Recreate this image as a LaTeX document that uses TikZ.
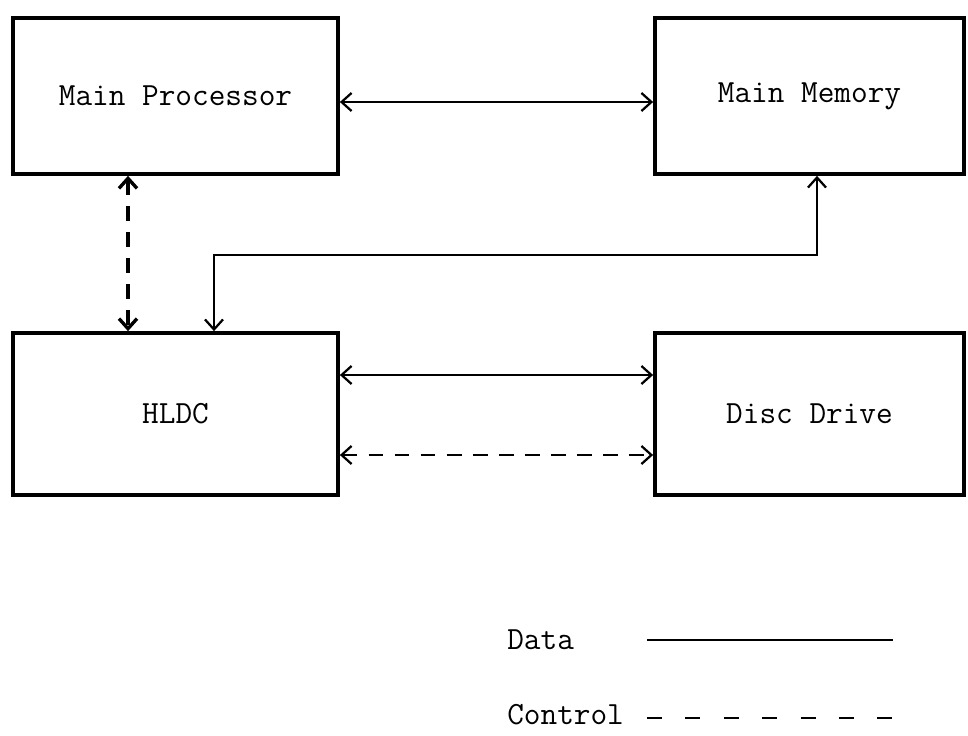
\documentclass[tikz,border=0pt]{standalone}
\usetikzlibrary{arrows.meta,calc}

\begin{document}
\begin{tikzpicture}[x=0.025cm, y=-0.025cm,
    every node/.style={font=\ttfamily\fontsize{23}{26}\selectfont},
    box/.style={draw, line width=2.6pt, inner sep=0pt},
    link/.style={line width=1.6pt, {Straight Barb[length=2.5mm,width=4.5mm]}-{Straight Barb[length=2.5mm,width=4.5mm]}},
    ctrl/.style={link, dash pattern=on 10.5pt off 8pt}]
        \useasboundingbox (0,0) rectangle (968,736);
        % units
        \node[box, minimum width=8.125cm, minimum height=3.9cm] (mp) at (175.5,96) {Main Processor};
        \node[box, minimum width=7.725cm, minimum height=3.9cm] (mm) at (809.5,96) {Main Memory};
        \node[box, minimum width=8.125cm, minimum height=4.05cm] (hldc) at (175.5,414) {HLDC};
        \node[box, minimum width=7.725cm, minimum height=4.05cm] (dd) at (809.5,414) {Disc Drive};
        % connectors
        \draw[link] ($(mp.east)+(0,6)$) -- ($(mm.west)+(0,6)$);
        \draw[ctrl, line width=2.4pt] ($(mp.south)+(-47.5,0)$) -- ($(hldc.north)+(-47.5,0)$);
        \draw[link] ($(mm.south)+(7.5,0)$) -- ++(0,79) -| ($(hldc.north)+(38.5,0)$);
        \draw[link] ($(hldc.east)+(0,-39)$) -- ($(dd.west)+(0,-39)$);
        \draw[ctrl] ($(hldc.east)+(0,41)$) -- ($(dd.west)+(0,41)$);
        % legend
        \node[anchor=west, inner sep=0pt] (datatxt) at (507,640) {Data};
        \node[anchor=west, inner sep=0pt] (ctrltxt) at (507,715) {Control};
        \coordinate (data1) at (647,640);
        \coordinate (data2) at (893,640);
        \coordinate (ctrl1) at (647,718);
        \coordinate (ctrl2) at (893,718);
        \draw[line width=2pt] (data1) -- (data2);
        \draw[line width=2pt, dash pattern=on 10.7pt off 16.6pt] (ctrl1) -- (ctrl2);
\end{tikzpicture}
\end{document}
